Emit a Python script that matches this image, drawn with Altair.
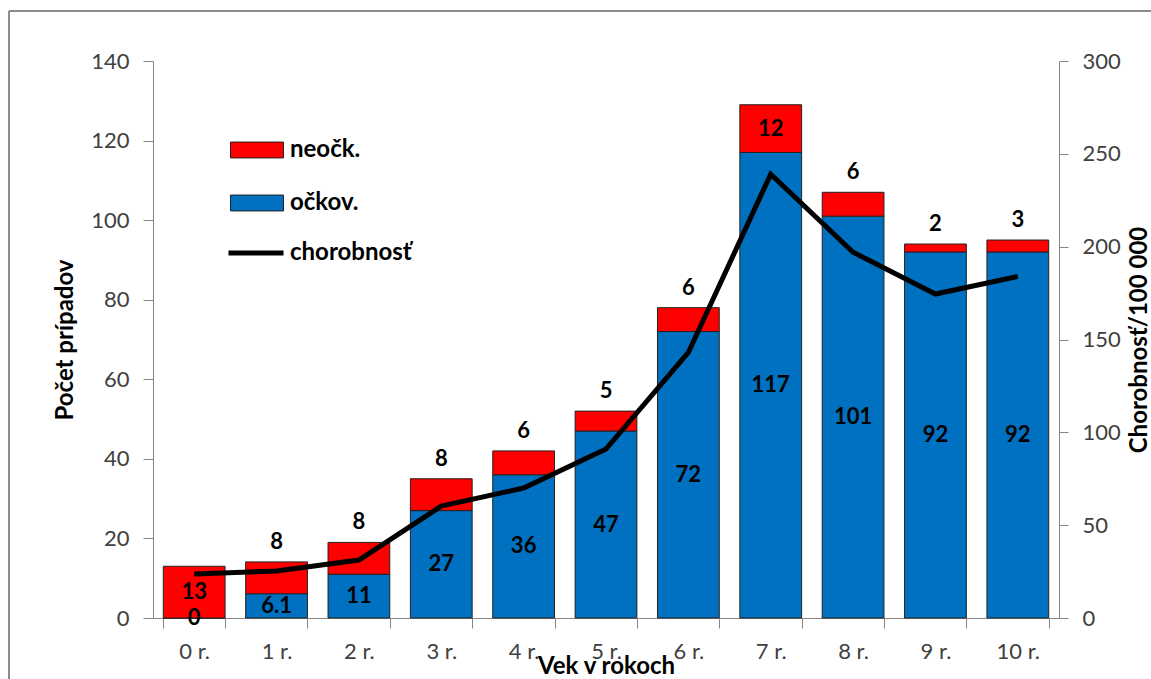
import altair as alt
import pandas as pd

categories = ["0 r.", "1 r.", "2 r.", "3 r.", "4 r.", "5 r.", "6 r.", "7 r.", "8 r.", "9 r.", "10 r."]
ockov = [0, 6.1, 11, 27, 36, 47, 72, 117, 101, 92, 92]
neock = [13, 8, 8, 8, 6, 5, 6, 12, 6, 2, 3]
chorobnost = [23.7, 25.3, 31.2, 60.3, 70, 91, 143, 239, 197, 174.5, 184]

FONT = "Lato"
W, H = 906, 557

wide = pd.DataFrame({"cat": categories, "oc": ockov, "neo": neock, "ch": chorobnost})
rows = []
for c, o, n in zip(categories, ockov, neock):
    rows.append({"cat": c, "grp": "očkov.", "value": o, "ord": 0})
    rows.append({"cat": c, "grp": "neočk.", "value": n, "ord": 1})
long = pd.DataFrame(rows)

xscale = alt.Scale(paddingInner=0.25, paddingOuter=0.125)
xaxis = alt.Axis(title="Vek v rokoch", tickBand="extent", labelAngle=0,
                 labelFont=FONT, labelFontSize=22, labelColor="#404040",
                 labelPadding=13, tickSize=10, tickColor="#868686",
                 domainColor="#868686", titleFont=FONT, titleFontSize=24,
                 titleFontWeight="bold", titleColor="black",
                 titleBaseline="alphabetic", titleY=55)
yscale = alt.Scale(domain=[0, 140], nice=False, zero=True)
yaxis = alt.Axis(title="Počet prípadov", values=list(range(0, 141, 20)),
                 grid=False, tickSize=10, tickColor="#868686",
                 domainColor="#868686", labelFont=FONT, labelFontSize=22,
                 labelColor="#404040", labelPadding=14,
                 titleFont=FONT, titleFontSize=24, titleFontWeight="bold",
                 titleColor="black", titleAngle=270, titleX=-88,
                 titleY=H / 2, titleBaseline="middle", titleAlign="center")

bars = alt.Chart(long).mark_bar(stroke="#222222", strokeWidth=1).encode(
    x=alt.X("cat:N", sort=categories, scale=xscale, axis=xaxis),
    y=alt.Y("value:Q", stack="zero", scale=yscale, axis=yaxis),
    color=alt.Color("grp:N",
                    scale=alt.Scale(domain=["neočk.", "očkov."], range=["#FF0000", "#0070C0"]),
                    legend=alt.Legend(title=None, orient="none", legendX=77, legendY=62,
                                      symbolType="M-1,-0.3L1,-0.3L1,0.3L-1,0.3Z",
                                      symbolSize=2809, symbolStrokeColor="#222222",
                                      symbolStrokeWidth=1, labelFont=FONT,
                                      labelFontSize=24, labelFontWeight="bold",
                                      labelColor="black", labelOffset=6,
                                      rowPadding=14, padding=0)),
    order=alt.Order("ord:Q"),
)

def label_layer(src, calc, field, dy=0):
    return src.transform_calculate(ypos=calc).mark_text(
        font=FONT, fontSize=22, fontWeight="bold", color="black",
        baseline="middle", dy=dy).encode(
        x=alt.X("cat:N", sort=categories, scale=xscale, axis=xaxis),
        y=alt.Y("ypos:Q", scale=yscale, axis=yaxis),
        text=alt.Text(f"{field}:Q", format="~g"),
    )

base = alt.Chart(wide)
blue_text = label_layer(base, "datum.oc / 2", "oc")
red_in = label_layer(base.transform_filter("datum.neo >= 10"),
                     "datum.oc + datum.neo / 2", "neo")
red_above = label_layer(base.transform_filter("datum.neo < 10"),
                        "datum.oc + datum.neo", "neo", dy=-20)

frame_df = pd.DataFrame({"k": [0]})
frame_v = alt.Chart(frame_df).mark_rule(color="#8c8c8c", strokeWidth=2).encode(
    x=alt.value(-144), y=alt.value(-50), y2=alt.value(H + 80))
frame_h = alt.Chart(frame_df).mark_rule(color="#8c8c8c", strokeWidth=2).encode(
    x=alt.value(-144), x2=alt.value(W + 120), y=alt.value(-50))

left = alt.layer(bars, blue_text, red_in, red_above, frame_v, frame_h)

line = alt.Chart(wide).transform_calculate(
    lbl="'chorobnosť'"
).mark_line(color="black", strokeWidth=5).encode(
    x=alt.X("cat:N", sort=categories, scale=xscale, axis=xaxis),
    y=alt.Y("ch:Q", scale=alt.Scale(domain=[0, 300], nice=False),
            axis=alt.Axis(orient="right", title="Chorobnosť/100 000",
                          values=list(range(0, 301, 50)), grid=False, tickSize=9,
                          tickColor="#868686", domainColor="#868686",
                          labelFont=FONT, labelFontSize=22, labelColor="#404040",
                          labelPadding=14, titleFont=FONT, titleFontSize=24,
                          titleFontWeight="bold", titleColor="black",
                          titleAngle=270, titleX=80, titleY=H / 2,
                          titleBaseline="middle", titleAlign="center")),
    stroke=alt.Stroke("lbl:N",
                      scale=alt.Scale(domain=["chorobnosť"], range=["black"]),
                      legend=alt.Legend(title=None, orient="none", legendX=73,
                                        legendY=162, symbolType="stroke",
                                        symbolSize=3025, symbolStrokeWidth=5,
                                        labelFont=FONT, labelFontSize=24,
                                        labelFontWeight="bold", labelColor="black",
                                        labelOffset=4, padding=0)),
)

chart = alt.layer(left, line).resolve_scale(y="independent").properties(
    width=W, height=H,
    autosize=alt.AutoSizeParams(type="none"),
    padding={"left": 153, "top": 61, "right": 92, "bottom": 61},
    background="white",
).configure_view(stroke=None)

chart.save("out.html", embed_options={"renderer": "svg", "actions": False})
